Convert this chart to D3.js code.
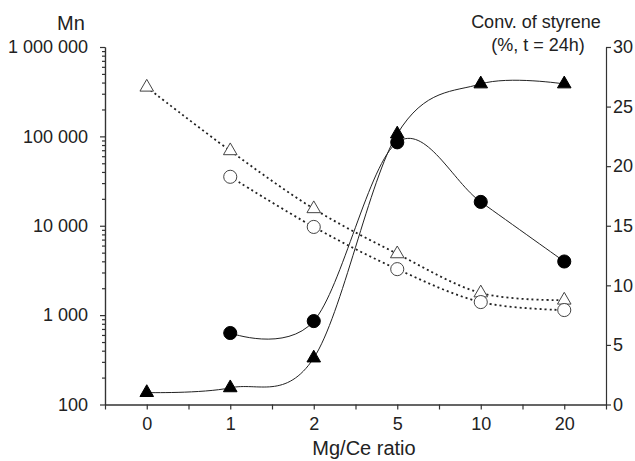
<!DOCTYPE html>
<html>
<head>
<meta charset="utf-8">
<script src="https://cdn.jsdelivr.net/npm/d3@7"></script>
<style>
  body { margin: 0; background: #fff; }
  svg text { font-family: "Liberation Sans", Arial, sans-serif; fill: #222; }
  .axis path, .axis line { stroke: #333; stroke-width: 1.2; }
</style>
</head>
<body>
<script>
var svg_width = 635;
var svg_height = 461;

// data
var ratios = ["0", "1", "2", "5", "10", "20"];
var mnTriangle = [355000, 69000, 15500, 4850, 1770, 1470];
var mnCircle = [null, 35300, 9700, 3270, 1400, 1140];
var convCircle = [null, 6.0, 7.0, 22.0, 17.0, 12.0];
var convTriangle = [1.0, 1.4, 3.9, 22.7, 26.9, 26.9];

var leftTicks = [100, 1000, 10000, 100000, 1000000];
var leftTickLabels = ["100", "1 000", "10 000", "100 000", "1 000 000"];
var rightTicks = [0, 5, 10, 15, 20, 25, 30];

var plot = { left: 105, right: 606, top: 47, bottom: 404.5 };

var svg = d3.select("body")
  .append("svg")
  .attr("width", svg_width)
  .attr("height", svg_height);

var x = d3.scaleLinear().domain([-0.5, 5.5]).range([plot.left, plot.right]);
var yLeft = d3.scaleLog().domain([100, 1000000]).range([plot.bottom, plot.top]);
var yRight = d3.scaleLinear().domain([0, 30]).range([plot.bottom, plot.top]);

// minor log ticks
var minorLeft = [];
leftTicks.slice(0, -1).forEach(function(t) {
  for (var k = 2; k <= 9; k++) minorLeft.push(t * k);
});

svg.append("g")
  .attr("class", "axis")
  .attr("transform", `translate(${plot.left},0)`)
  .call(d3.axisLeft(yLeft).tickValues(minorLeft).tickSize(3).tickSizeOuter(0).tickFormat(""));

svg.append("g")
  .attr("class", "axis")
  .attr("transform", `translate(${plot.left},0)`)
  .call(d3.axisLeft(yLeft).tickValues(leftTicks).tickSize(5).tickSizeOuter(0).tickPadding(12)
    .tickFormat(function(d, i) { return leftTickLabels[i]; }))
  .selectAll("text").style("font-size", "18px");

svg.append("g")
  .attr("class", "axis")
  .attr("transform", `translate(${plot.right},0)`)
  .call(d3.axisRight(yRight).tickValues(rightTicks).tickSize(5).tickSizeOuter(0).tickPadding(2))
  .selectAll("text").style("font-size", "18px");

// x axis: labelled ticks at each ratio, unlabelled ones between
var minorX = d3.range(-0.5, 6, 1);
svg.append("g")
  .attr("class", "axis")
  .attr("transform", `translate(0,${plot.bottom})`)
  .call(d3.axisBottom(x).tickValues(minorX).tickSize(5).tickSizeOuter(0).tickFormat(""));

svg.append("g")
  .attr("class", "axis")
  .attr("transform", `translate(0,${plot.bottom})`)
  .call(d3.axisBottom(x).tickValues(d3.range(ratios.length)).tickSize(5).tickSizeOuter(0).tickPadding(8)
    .tickFormat(function(d) { return ratios[d]; }))
  .selectAll("text").style("font-size", "18px");

// curves
function series(values, scale) {
  return values.map(function(v, i) { return { i: i, v: v }; })
    .filter(function(d) { return d.v != null; })
    .map(function(d) { return [x(d.i), scale(d.v)]; });
}

var curve = d3.line().curve(d3.curveCatmullRom.alpha(0));

svg.append("path").datum(series(mnTriangle, yLeft))
  .attr("d", curve).attr("fill", "none")
  .attr("stroke", "#222").attr("stroke-width", 1.8).attr("stroke-dasharray", "2,3");

svg.append("path").datum(series(mnCircle, yLeft))
  .attr("d", curve).attr("fill", "none")
  .attr("stroke", "#222").attr("stroke-width", 1.8).attr("stroke-dasharray", "2,3");

svg.append("path").datum(series(convCircle, yRight))
  .attr("d", curve).attr("fill", "none")
  .attr("stroke", "#222").attr("stroke-width", 1);

svg.append("path").datum(series(convTriangle, yRight))
  .attr("d", curve).attr("fill", "none")
  .attr("stroke", "#222").attr("stroke-width", 1);

// markers
var tri = d3.symbol().type(d3.symbolTriangle).size(80);
var circ = d3.symbol().type(d3.symbolCircle).size(135);

function markers(values, scale, sym, filled) {
  svg.append("g").selectAll("path")
    .data(series(values, scale))
    .enter()
    .append("path")
    .attr("transform", d => `translate(${d[0]},${d[1]})`)
    .attr("d", sym)
    .attr("fill", filled ? "#000" : "#fff")
    .attr("stroke", filled ? "#000" : "#444")
    .attr("stroke-width", 1);
}

markers(mnTriangle, yLeft, tri, false);
markers(mnCircle, yLeft, circ, false);
markers(convCircle, yRight, circ, true);
markers(convTriangle, yRight, tri, true);

// titles
svg.append("text")
  .attr("x", 71).attr("y", 30)
  .attr("text-anchor", "middle")
  .style("font-size", "20px")
  .text("Mn");

svg.append("text")
  .attr("x", 536).attr("y", 28)
  .attr("text-anchor", "middle")
  .style("font-size", "18px")
  .text("Conv. of styrene");

svg.append("text")
  .attr("x", 538).attr("y", 51)
  .attr("text-anchor", "middle")
  .style("font-size", "18px")
  .text("(%, t = 24h)");

svg.append("text")
  .attr("x", 364).attr("y", 455)
  .attr("text-anchor", "middle")
  .style("font-size", "20px")
  .text("Mg/Ce ratio");
</script>
</body>
</html>
